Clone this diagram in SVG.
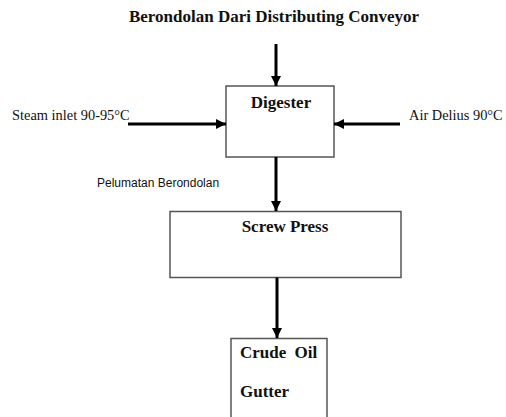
<svg xmlns="http://www.w3.org/2000/svg" width="506" height="417" viewBox="0 0 506 417">
<defs>
<marker id="ah" markerUnits="userSpaceOnUse" markerWidth="10" markerHeight="10" refX="10" refY="5" orient="auto">
<path d="M0,0 L10,5 L0,10 z" fill="#000"/>
</marker>
<style>
.box{fill:#fff;stroke:#555;stroke-width:1.5}
.b{font-family:"Liberation Serif","Times New Roman",serif;font-weight:bold;font-size:17px;fill:#111}
.r{font-family:"Liberation Serif","Times New Roman",serif;font-size:14.4px;fill:#111}
.s{font-family:"Liberation Sans",Arial,sans-serif;font-size:12px;fill:#111}
.c{stroke:#000;stroke-width:3;fill:none;marker-end:url(#ah)}
</style>
</defs>
<rect width="506" height="417" fill="#fff"/>
<text class="b" x="274" y="22" text-anchor="middle" font-size="16.5">Berondolan Dari Distributing Conveyor</text>
<text class="r" x="12" y="120">Steam inlet 90-95°C</text>
<text class="r" x="409" y="120">Air Delius 90°C</text>
<text class="s" x="97" y="187">Pelumatan Berondolan</text>
<g id="digester">
<rect class="box" x="226" y="86" width="108" height="71"/>
<text class="b" x="281" y="108" text-anchor="middle">Digester</text>
</g>
<g id="screwpress">
<rect class="box" x="170" y="211.5" width="231" height="66"/>
<text class="b" x="285" y="232" text-anchor="middle">Screw Press</text>
</g>
<g id="crudeoil">
<rect class="box" x="231" y="338.5" width="96" height="100"/>
<text class="b" x="240" y="358" word-spacing="4">Crude Oil</text>
<text class="b" x="240" y="397">Gutter</text>
</g>
<g id="connectors">
<line class="c" x1="276" y1="44" x2="276" y2="86"/>
<line class="c" x1="128" y1="124" x2="226" y2="124"/>
<line class="c" x1="400" y1="124" x2="334" y2="124"/>
<line class="c" x1="276" y1="157" x2="276" y2="211"/>
<line class="c" x1="277" y1="277.5" x2="277" y2="338"/>
</g>
</svg>
